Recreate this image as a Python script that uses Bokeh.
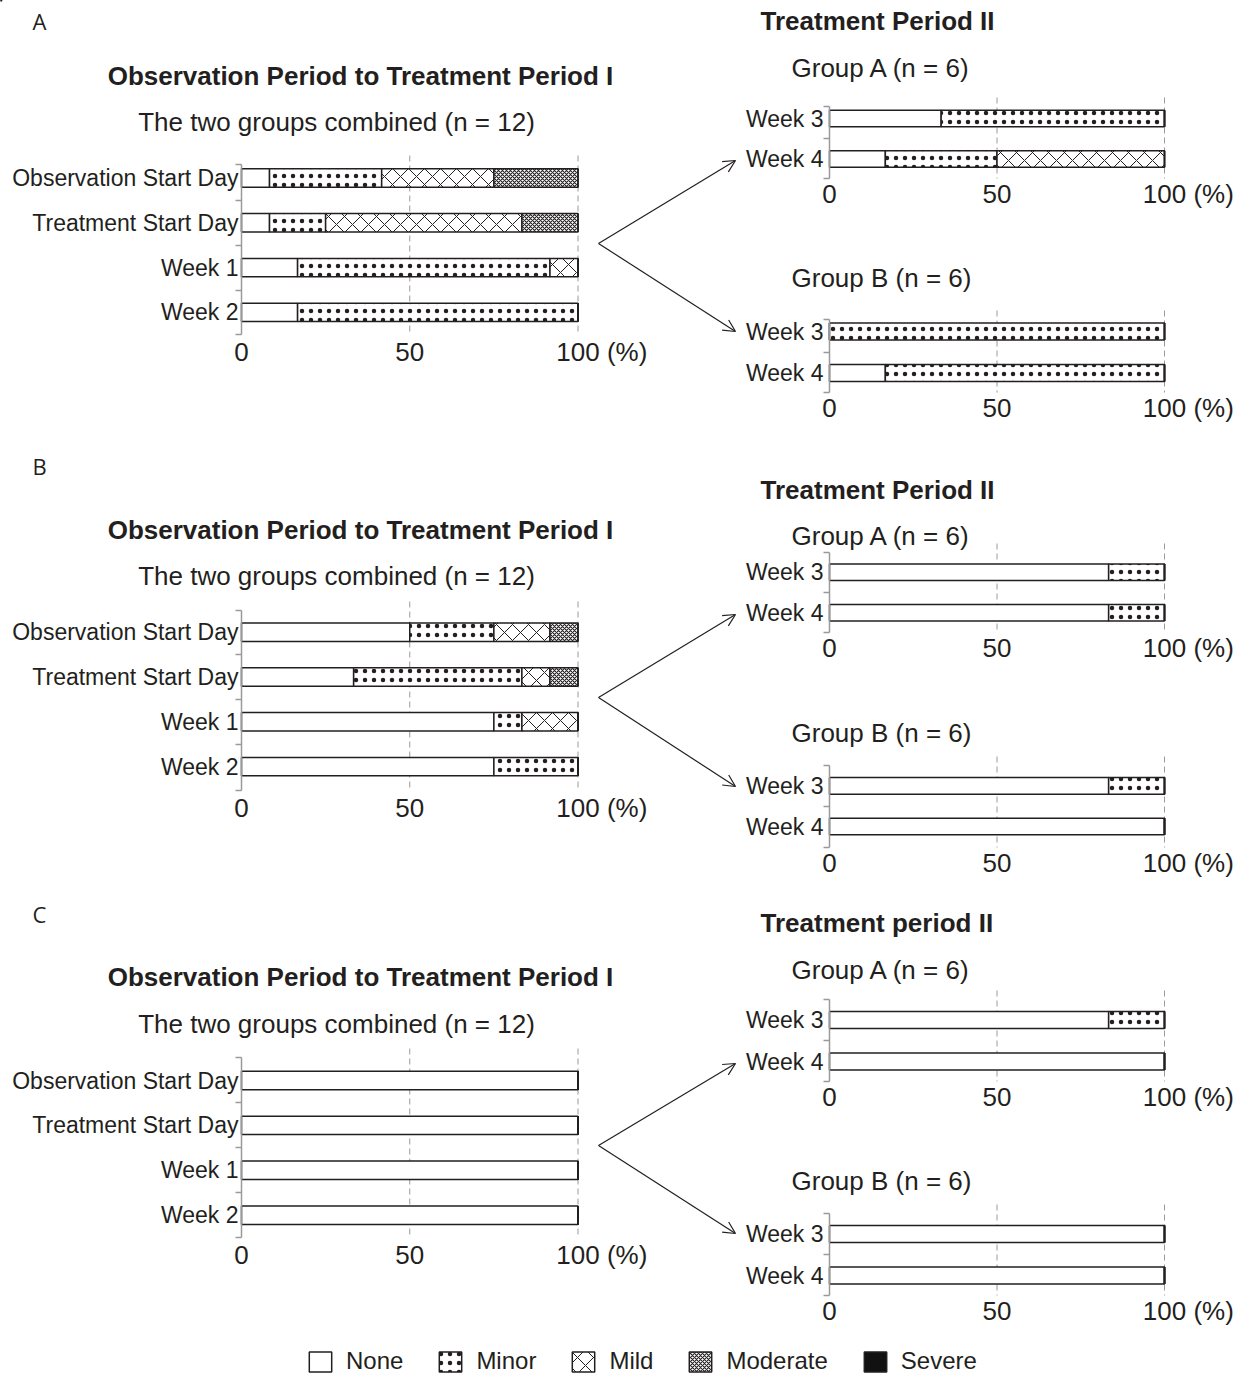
from bokeh.plotting import figure
from bokeh.models import (Range1d, FixedTicker, Label, Arrow, OpenHead, Legend,
                          LegendItem, ColumnDataSource, LinearAxis)
from bokeh.embed import file_html
from bokeh.resources import INLINE

# ---------------- DATA (percent of patients per severity level) ----------------
levels = ["None", "Minor", "Mild", "Moderate", "Severe"]
period1_labels = ["Observation Start Day", "Treatment Start Day", "Week 1", "Week 2"]
period2_labels = ["Week 3", "Week 4"]
x_ticks = [0, 50, 100]

# Panel A - Observation Period to Treatment Period I (n = 12)
A1_none = [8.33, 8.33, 16.67, 16.67]
A1_minor = [33.33, 16.67, 75.0, 83.33]
A1_mild = [33.34, 58.33, 8.33, 0.0]
A1_moderate = [25.0, 16.67, 0.0, 0.0]
A1_severe = [0.0, 0.0, 0.0, 0.0]
# Panel A - Treatment Period II, Group A (n = 6)
A2a_none = [33.33, 16.67]
A2a_minor = [66.67, 33.33]
A2a_mild = [0.0, 50.0]
A2a_moderate = [0.0, 0.0]
A2a_severe = [0.0, 0.0]
# Panel A - Treatment Period II, Group B (n = 6)
A2b_none = [0.0, 16.67]
A2b_minor = [100.0, 83.33]
A2b_mild = [0.0, 0.0]
A2b_moderate = [0.0, 0.0]
A2b_severe = [0.0, 0.0]

# Panel B
B1_none = [50.0, 33.33, 75.0, 75.0]
B1_minor = [25.0, 50.0, 8.33, 25.0]
B1_mild = [16.67, 8.33, 16.67, 0.0]
B1_moderate = [8.33, 8.34, 0.0, 0.0]
B1_severe = [0.0, 0.0, 0.0, 0.0]
B2a_none = [83.33, 83.33]
B2a_minor = [16.67, 16.67]
B2a_mild = [0.0, 0.0]
B2a_moderate = [0.0, 0.0]
B2a_severe = [0.0, 0.0]
B2b_none = [83.33, 100.0]
B2b_minor = [16.67, 0.0]
B2b_mild = [0.0, 0.0]
B2b_moderate = [0.0, 0.0]
B2b_severe = [0.0, 0.0]

# Panel C
C1_none = [100.0, 100.0, 100.0, 100.0]
C1_minor = [0.0, 0.0, 0.0, 0.0]
C1_mild = [0.0, 0.0, 0.0, 0.0]
C1_moderate = [0.0, 0.0, 0.0, 0.0]
C1_severe = [0.0, 0.0, 0.0, 0.0]
C2a_none = [83.33, 100.0]
C2a_minor = [16.67, 0.0]
C2a_mild = [0.0, 0.0]
C2a_moderate = [0.0, 0.0]
C2a_severe = [0.0, 0.0]
C2b_none = [100.0, 100.0]
C2b_minor = [0.0, 0.0]
C2b_mild = [0.0, 0.0]
C2b_moderate = [0.0, 0.0]
C2b_severe = [0.0, 0.0]

# ---------------- STYLE ----------------
INK = "#231f20"
AX = "#9a9a9a"
FONT = "Liberation Sans"
fills = ["white", "white", "white", "white", "#111111"]
patterns = [" ", ".", "x", "x", " "]
hscales = [12, 9, 16, 4, 12]
hweights = [1, 1, 1, 1.1, 1]
XTICK_PX = 26
TITLE_PX = 26

W, H = 1250, 1377
p = figure(width=W, height=H, output_backend="svg", toolbar_location=None,
           x_range=Range1d(0, W), y_range=Range1d(H, 0),
           x_axis_location=None, y_axis_location=None, min_border=0)
p.outline_line_color = None
p.grid.visible = False


def put(px, py, s, size, bold=False, align="left", font=FONT):
    p.add_layout(Label(x=px, y=py, text=s, text_font=font,
                       text_font_size=f"{size}px",
                       text_font_style="bold" if bold else "normal",
                       text_align=align, text_baseline="middle", text_color=INK))


def arrow(p0, p1):
    p.add_layout(Arrow(end=OpenHead(size=12, line_width=1.2, line_color=INK),
                       x_start=p0[0], y_start=p0[1], x_end=p1[0], y_end=p1[1],
                       line_width=1.2, line_color=INK))


def chart(name, cats, series, axis_x, x100, axis_px, c0, step, ystand, xstand):
    ppu = (x100 - axis_x) / 100.0

    def X(px):
        return (px - axis_x) / ppu

    def Y(py):
        return (py - c0) / step

    xr, yr = "x_" + name, "y_" + name
    p.extra_x_ranges[xr] = Range1d(X(0), X(W))
    p.extra_y_ranges[yr] = Range1d(Y(H), Y(0))
    n = len(cats)
    data = {"y": list(range(n))}
    for lv, s in zip(levels, series):
        data[lv] = s
    src = ColumnDataSource(data)
    a0, a1 = Y(axis_px[0]), Y(axis_px[1])
    # dashed grid lines at 50 and 100
    gt = x_ticks[1:]
    p.segment(x0=gt, x1=gt, y0=[Y(axis_px[0] - 9)] * len(gt), y1=[a1] * len(gt),
              x_range_name=xr, y_range_name=yr, line_color=AX, line_width=1,
              line_dash="6 4")
    p.hbar_stack(levels, y="y", height=0.41, source=src,
                 x_range_name=xr, y_range_name=yr,
                 fill_color=fills, hatch_pattern=patterns, hatch_scale=hscales,
                 hatch_weight=hweights, hatch_color=INK,
                 line_color=INK, line_width=1.5)
    # y axis (bracket style)
    minor = [a0 + 0.005] + [i + 0.5 for i in range(n - 1)] + [a1 - 0.005]
    yax = LinearAxis(x_range_name=xr, y_range_name=yr, fixed_location=0,
                     bounds=(a0, a1),
                     ticker=FixedTicker(ticks=list(range(n)), minor_ticks=minor),
                     major_label_overrides={i: c for i, c in enumerate(cats)},
                     major_tick_out=0, major_tick_in=0, major_tick_line_color=None,
                     minor_tick_out=6, minor_tick_in=0, minor_tick_line_color=AX,
                     minor_tick_line_width=1.5, axis_line_color=AX, axis_line_width=1.5,
                     major_label_text_font=FONT, major_label_text_font_size="23px",
                     major_label_text_color=INK, major_label_standoff=ystand)
    p.add_layout(yax, "left")
    # x axis; the last label "100 (%)" is shifted so that "100" sits on its tick
    shift = 0.5 * (0.278 + 0.333 + 0.889 + 0.333) * XTICK_PX / ppu
    pos = [t + shift if t == x_ticks[-1] else t for t in x_ticks]
    xax = LinearAxis(x_range_name=xr, y_range_name=yr, fixed_location=a1,
                     ticker=FixedTicker(ticks=pos),
                     major_label_overrides={pos[-1]: f"{x_ticks[-1]} (%)"},
                     axis_line_color=None, major_tick_line_color=None,
                     minor_tick_line_color=None, major_tick_out=0, major_tick_in=0,
                     minor_tick_out=0, minor_tick_in=0,
                     major_label_text_font=FONT,
                     major_label_text_font_size=f"{XTICK_PX}px",
                     major_label_text_color=INK, major_label_standoff=xstand)
    p.add_layout(xax, "below")


def left_chart(name, series, axis_px, c0, step):
    chart(name, period1_labels, series, 241, 577.5, axis_px, c0, step, -3, 2)


def right_chart(name, series, axis_px, c0, step):
    chart(name, period2_labels, series, 829, 1164, axis_px, c0, step, 0, 0)


# ---- Section A ----
put(32, 20, "A", 22, font="Open Sans")
put(360, 75, "Observation Period to Treatment Period I", TITLE_PX, bold=True, align="center")
put(336, 121, "The two groups combined (n = 12)", TITLE_PX, align="center")
put(760, 20, "Treatment Period II", TITLE_PX, bold=True)
put(791, 67, "Group A (n = 6)", TITLE_PX)
put(791, 277, "Group B (n = 6)", TITLE_PX)
left_chart("A1", [A1_none, A1_minor, A1_mild, A1_moderate, A1_severe], (164, 334), 177.5, 44.8)
right_chart("A2a", [A2a_none, A2a_minor, A2a_mild, A2a_moderate, A2a_severe], (106, 178), 118, 40.5)
right_chart("A2b", [A2b_none, A2b_minor, A2b_mild, A2b_moderate, A2b_severe], (319, 392), 331, 41.5)
arrow((598, 243), (735, 160))
arrow((598, 243), (735, 331))

# ---- Section B ----
put(32, 465, "B", 22, font="Open Sans")
put(360, 529, "Observation Period to Treatment Period I", TITLE_PX, bold=True, align="center")
put(336, 575, "The two groups combined (n = 12)", TITLE_PX, align="center")
put(760, 489, "Treatment Period II", TITLE_PX, bold=True)
put(791, 535, "Group A (n = 6)", TITLE_PX)
put(791, 732, "Group B (n = 6)", TITLE_PX)
left_chart("B1", [B1_none, B1_minor, B1_mild, B1_moderate, B1_severe], (610, 790), 631.7, 44.8)
right_chart("B2a", [B2a_none, B2a_minor, B2a_mild, B2a_moderate, B2a_severe], (552, 632), 571.7, 40.6)
right_chart("B2b", [B2b_none, B2b_minor, B2b_mild, B2b_moderate, B2b_severe], (765, 847), 785.3, 40.7)
arrow((598, 697), (735, 614))
arrow((598, 697), (735, 786))

# ---- Section C ----
put(32, 913, "C", 22, font="Open Sans")
put(360, 976, "Observation Period to Treatment Period I", TITLE_PX, bold=True, align="center")
put(336, 1023, "The two groups combined (n = 12)", TITLE_PX, align="center")
put(760, 922, "Treatment period II", TITLE_PX, bold=True)
put(791, 969, "Group A (n = 6)", TITLE_PX)
put(791, 1180, "Group B (n = 6)", TITLE_PX)
left_chart("C1", [C1_none, C1_minor, C1_mild, C1_moderate, C1_severe], (1057, 1237), 1080, 44.9)
right_chart("C2a", [C2a_none, C2a_minor, C2a_mild, C2a_moderate, C2a_severe], (999, 1081), 1019.5, 41.5)
right_chart("C2b", [C2b_none, C2b_minor, C2b_mild, C2b_moderate, C2b_severe], (1213, 1295), 1233.5, 41.5)
arrow((598, 1145), (735, 1063))
arrow((598, 1145), (735, 1233))

# ---- Legend ----
items = []
for lv, fc, hp, hs, hw in zip(levels, fills, patterns, hscales, hweights):
    r = p.hbar(y=[-500], right=[1], left=[0], height=1, fill_color=fc, hatch_pattern=hp,
               hatch_scale=hs, hatch_weight=hw, hatch_color=INK,
               line_color=INK, line_width=1.5)
    items.append(LegendItem(label=lv, renderers=[r]))
leg = Legend(items=items, orientation="horizontal", location=(306, 2),
             glyph_width=28, glyph_height=25, label_standoff=12, spacing=33,
             padding=0, margin=0, border_line_color=None, background_fill_alpha=0,
             label_text_font=FONT, label_text_font_size="24px", label_text_color=INK,
             label_height=25)
p.add_layout(leg)

open("out.html", "w").write(file_html(p, INLINE))
